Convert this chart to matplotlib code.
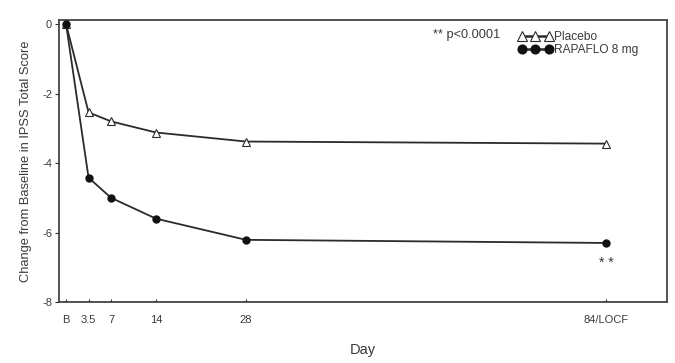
import matplotlib
matplotlib.use("Agg")
import matplotlib.pyplot as plt

days = [0, 3.5, 7, 14, 28, 84]
tick_labels = ["B", "3.5", "7", "14", "28", "84/LOCF"]
placebo = [0, -2.54, -2.8, -3.12, -3.38, -3.44]
rapaflo = [0, -4.42, -5.0, -5.6, -6.21, -6.3]
y_ticks = [0, -2, -4, -6, -8]

plt.rcParams['font.family'] = ['Liberation Sans', 'DejaVu Sans']
col = '#2b2b2b'
tcol = '#3a3a3a'

fig = plt.figure(figsize=(6.75, 3.63), dpi=100)
ax = fig.add_axes([0.0874, 0.168, 0.9006, 0.777])

ax.plot(days, placebo, color=col, lw=1.3, marker='^', ms=5.5, mfc='white',
        mec=col, mew=0.8, label='Placebo', zorder=3)
ax.plot(days, rapaflo, color=col, lw=1.3, marker='o', ms=5, mfc='#111111',
        mec='#111111', label='RAPAFLO 8 mg', zorder=3)

ax.set_xlim(-1.1, 93.5)
ax.set_ylim(-8, 0.12)
ax.set_xticks(days)
ax.set_xticklabels(tick_labels)
ax.set_yticks(y_ticks)
ax.set_yticklabels([str(v) for v in y_ticks])
ax.tick_params(axis='x', direction='in', length=2.5, width=0.8, color=col,
               labelsize=8, pad=9, labelcolor=tcol)
ax.tick_params(axis='y', direction='out', length=3, width=0.8, color=col,
               labelsize=8, pad=2, labelcolor=tcol)
for s in ax.spines.values():
    s.set_color('#444444')
    s.set_linewidth(1.3)

ax.set_xlabel('Day', fontsize=10.5, color=tcol, labelpad=13)
ax.set_ylabel('Change from Baseline in IPSS Total Score', fontsize=9.3,
              color=tcol, labelpad=7)

leg = ax.legend(loc='upper left', bbox_to_anchor=(0.755, 0.962), frameon=False,
                numpoints=3, handlelength=2.9, fontsize=8.6, labelspacing=0.15,
                handletextpad=0.15, borderaxespad=0, borderpad=0,
                markerscale=1.25)
for t in leg.get_texts():
    t.set_color(tcol)
for h in leg.legend_handles:
    h.set_linewidth(1.8)

ax.text(0.615, 0.947, '** p<0.0001', transform=ax.transAxes, fontsize=9.2,
        color=tcol, va='center')
ax.text(84, -6.88, '* *', ha='center', va='center', fontsize=10, color=tcol)

fig.savefig('out.png', dpi=100)
